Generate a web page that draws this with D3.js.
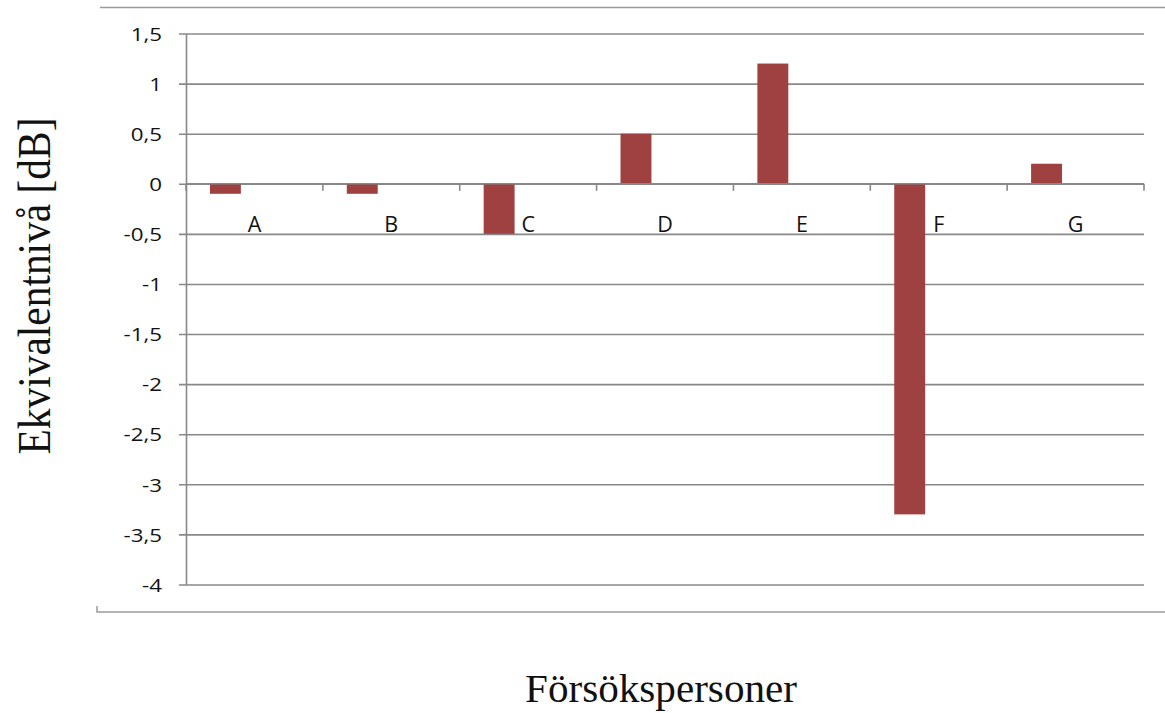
<!DOCTYPE html>
<html>
<head>
<meta charset="utf-8">
<script src="https://cdn.jsdelivr.net/npm/d3@7"></script>
<style>
  html, body { margin: 0; padding: 0; background: #fff; }
  svg { display: block; }
</style>
</head>
<body>
<svg id="chart" width="1165" height="713"></svg>
<script>
// Försökspersoner och deras förändring i ekvivalentnivå (dB)
const categories = ["A", "B", "C", "D", "E", "F", "G"];
const values = [-0.1, -0.1, -0.5, 0.5, 1.2, -3.3, 0.2];
const yTicks = [1.5, 1, 0.5, 0, -0.5, -1, -1.5, -2, -2.5, -3, -3.5, -4];
const yTitle = "Ekvivalentnivå [dB]";
const xTitle = "Försökspersoner";

const svg = d3.select("#chart");
const plot = { left: 186, right: 1144, top: 33.5, bottom: 584.5 };
const gridColor = "#888888";
const barColor = "#9e4140";
const tickFont = "'Open Sans', 'Liberation Sans', sans-serif";
const titleFont = "'Liberation Serif', 'DejaVu Serif', serif";

const x = d3.scaleBand().domain(categories).range([plot.left, plot.right]).padding(0);
const y = d3.scaleLinear().domain([-4, 1.5]).range([plot.bottom, plot.top]);

// outer chart border (top and bottom edges)
svg.append("line").attr("x1", 100).attr("x2", 1165).attr("y1", 7.5).attr("y2", 7.5)
  .attr("stroke", "#9a9a9a").attr("stroke-width", 1.5);
svg.append("path").attr("d", "M97,606V612H1165")
  .attr("fill", "none").attr("stroke", "#9a9a9a").attr("stroke-width", 1.5);

// horizontal gridlines with left tick marks
const yAxis = d3.axisLeft(y).tickValues(yTicks)
  .tickSize(-(plot.right - plot.left)).tickSizeOuter(0)
  .tickFormat(d => String(d).replace(".", ","));
const gy = svg.append("g").attr("transform", `translate(${plot.left},0)`).call(yAxis);
gy.attr("font-size", null).attr("font-family", null);
gy.select(".domain").attr("stroke", gridColor).attr("stroke-width", 1.6);
gy.selectAll(".tick line").attr("stroke", gridColor).attr("stroke-width", 1.6).attr("x1", -7);
// value labels are drawn slightly widened
gy.selectAll(".tick text")
  .attr("x", 0).attr("dy", "0.36em")
  .attr("transform", "translate(-24,0) scale(1.2,1)")
  .style("font-family", tickFont).style("font-size", "18.6px").attr("fill", "#111");

// bars: each sits in the first slot of its category band
const slotOffset = 0.175, slotWidth = 0.226;
svg.append("g").selectAll("rect").data(categories).join("rect")
  .attr("x", (d) => x(d) + x.bandwidth() * slotOffset)
  .attr("width", x.bandwidth() * slotWidth)
  .attr("y", (d, i) => y(Math.max(0, values[i])))
  .attr("height", (d, i) => Math.abs(y(values[i]) - y(0)))
  .attr("fill", barColor);

// category axis along the zero line
const xAxis = d3.axisBottom(x).tickSize(0).tickSizeOuter(0);
const gx = svg.append("g").attr("transform", `translate(0,${y(0)})`).call(xAxis);
gx.attr("font-size", null).attr("font-family", null);
gx.select(".domain").remove();
gx.selectAll(".tick text")
  .attr("y", 48).attr("dy", 0)
  .style("font-family", tickFont).style("font-size", "21.5px").attr("fill", "#111");
// tick marks between categories
const bounds = categories.map(c => x(c)).concat([plot.right]);
svg.append("g").selectAll("line").data(bounds).join("line")
  .attr("x1", d => d).attr("x2", d => d)
  .attr("y1", y(0)).attr("y2", y(0) + 7)
  .attr("stroke", gridColor).attr("stroke-width", 1.6);
svg.append("line").attr("x1", plot.left).attr("x2", plot.right)
  .attr("y1", y(0)).attr("y2", y(0))
  .attr("stroke", gridColor).attr("stroke-width", 1.6);

// axis titles
svg.append("text")
  .attr("transform", "translate(50,286) rotate(-90)")
  .attr("text-anchor", "middle")
  .attr("font-family", titleFont).attr("font-size", 46)
  .attr("textLength", 337).attr("lengthAdjust", "spacingAndGlyphs")
  .attr("fill", "#111").text(yTitle);
svg.append("text")
  .attr("x", 661).attr("y", 702)
  .attr("text-anchor", "middle")
  .attr("font-family", titleFont).attr("font-size", 40)
  .attr("textLength", 272).attr("lengthAdjust", "spacingAndGlyphs")
  .attr("fill", "#111").text(xTitle);
</script>
</body>
</html>
